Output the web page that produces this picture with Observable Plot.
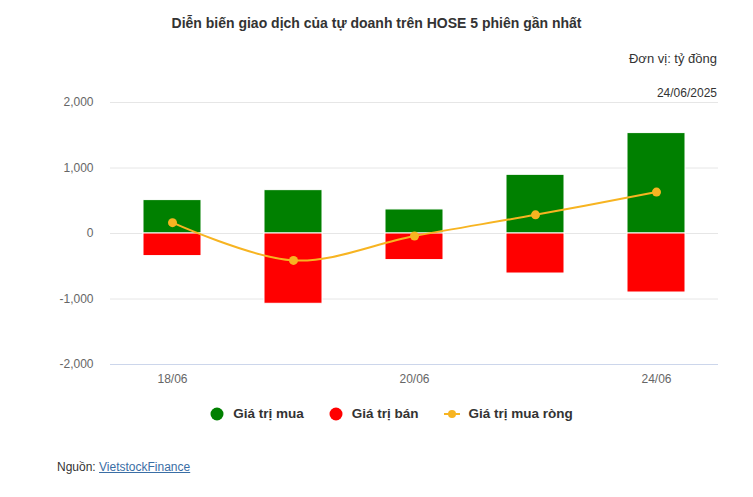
<!DOCTYPE html>
<html>
<head>
<meta charset="utf-8">
<script src="https://cdn.jsdelivr.net/npm/d3@7"></script>
<script src="https://cdn.jsdelivr.net/npm/@observablehq/plot@0.6"></script>
<style>
  html, body { margin: 0; padding: 0; background: #fff; }
  body { width: 753px; height: 497px; position: relative; overflow: hidden; font-family: "Liberation Sans", Arial, sans-serif; }
  .abs { position: absolute; white-space: nowrap; }
  #title { left: 0; width: 753px; top: 15px; text-align: center; font-size: 14px; font-weight: bold; color: #333; }
  #unit { right: 36px; top: 51px; font-size: 13px; color: #333; }
  #date { right: 36px; top: 86px; font-size: 12px; color: #333; }
  #legend { left: 30px; width: 723px; top: 406px; display: flex; justify-content: center; gap: 25px; font-size: 13.5px; font-weight: bold; color: #333; }
  #legend .item { display: flex; align-items: center; gap: 9px; }
  #source { left: 57px; top: 460px; font-size: 12px; color: #333; }
  #source a { color: #3a6ea5; text-decoration: underline; }
  #chart { position: absolute; left: 0; top: 0; }
</style>
</head>
<body>
<div id="chart"></div>
<div class="abs" id="title">Diễn biến giao dịch của tự doanh trên HOSE 5 phiên gần nhất</div>
<div class="abs" id="unit">Đơn vị: tỷ đồng</div>
<div class="abs" id="date">24/06/2025</div>
<div class="abs" id="legend"></div>
<div class="abs" id="source">Nguồn: <a href="#">VietstockFinance</a></div>
<script>
const days = ["18/06", "19/06", "20/06", "23/06", "24/06"];
const buyValues = [510, 662, 367, 896, 1533];
const sellValues = [-345, -1073, -406, -611, -901];
const netValues = [165, -411, -39, 285, 632];
const shownDays = ["18/06", "20/06", "24/06"];
const yTicks = [-2000, -1000, 0, 1000, 2000];
const seriesNames = ["Giá trị mua", "Giá trị bán", "Giá trị mua ròng"];
const colors = ["#008000", "#ff0000", "#f7b421"];

const rows = days.map((d, i) => ({day: d, buy: buyValues[i], sell: sellValues[i], net: netValues[i]}));
const fmt = d3.formatLocale({decimal: ".", thousands: ",", grouping: [3], currency: ["$", ""], minus: "-"}).format(",");

const chart = Plot.plot({
  width: 753,
  height: 497,
  marginTop: 102,
  marginBottom: 133,
  marginLeft: 110,
  marginRight: 35,
  style: {fontFamily: "Liberation Sans, Arial, sans-serif", fontSize: "12px", color: "#666"},
  x: {domain: days, paddingInner: 0.52, paddingOuter: 0.26, label: null},
  y: {domain: [-2000, 2000], label: null},
  marks: [
    Plot.ruleY(yTicks.slice(1), {stroke: "#e6e6e6", strokeWidth: 1}),
    Plot.ruleY([-2000], {stroke: "#ccd6eb", strokeWidth: 1}),
    Plot.barY(rows, {x: "day", y1: 0, y2: "buy", fill: colors[0], stroke: "#fff", strokeWidth: 1}),
    Plot.barY(rows, {x: "day", y1: 0, y2: "sell", fill: colors[1], stroke: "#fff", strokeWidth: 1}),
    Plot.line(rows, {x: "day", y: "net", stroke: colors[2], strokeWidth: 2, curve: "catmull-rom"}),
    Plot.dot(rows, {x: "day", y: "net", r: 4.5, fill: colors[2], stroke: "none"}),
    Plot.axisY({ticks: yTicks, tickFormat: fmt, tickSize: 0, tickPadding: 17, fill: "#666", fontSize: 12}),
    Plot.axisX({tickFormat: d => shownDays.includes(d) ? d : "", tickSize: 0, tickPadding: 10, fill: "#666", fontSize: 12})
  ]
});
document.getElementById("chart").appendChild(chart);

const legend = document.getElementById("legend");
seriesNames.forEach((name, i) => {
  const item = document.createElement("div");
  item.className = "item";
  let sym;
  if (i < 2) {
    sym = `<svg width="14" height="14"><circle cx="7" cy="7" r="6.5" fill="${colors[i]}"/></svg>`;
  } else {
    sym = `<svg width="16" height="14"><line x1="0" x2="16" y1="7" y2="7" stroke="${colors[i]}" stroke-width="2"/><circle cx="8" cy="7" r="4" fill="${colors[i]}"/></svg>`;
  }
  item.innerHTML = sym + `<span>${name}</span>`;
  legend.appendChild(item);
});
</script>
</body>
</html>
